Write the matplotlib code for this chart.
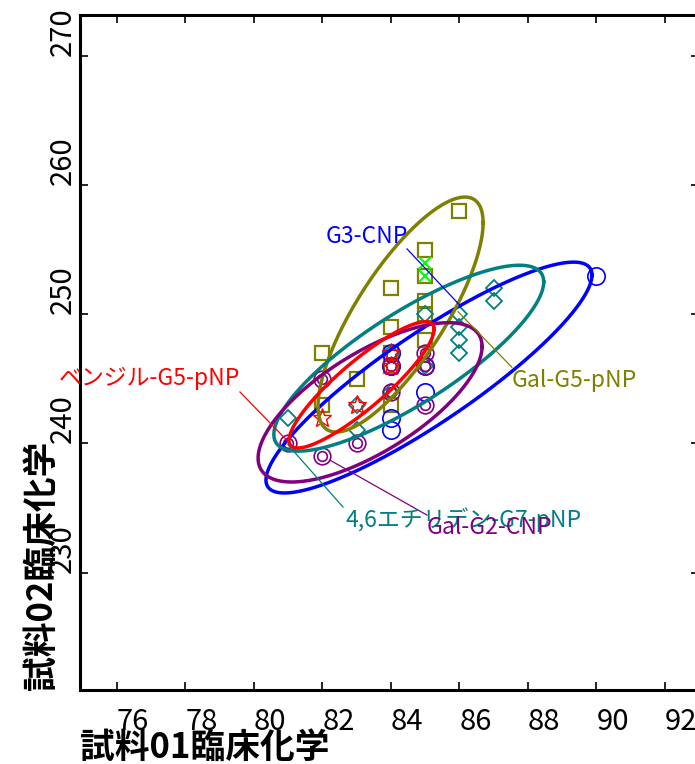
import numpy as np
import matplotlib
matplotlib.use("Agg")
import matplotlib.pyplot as plt

plt.rcParams['font.family'] = ['Liberation Sans Narrow', 'Noto Sans CJK JP', 'DejaVu Sans']

# ---- data -------------------------------------------------------------
g3_cnp_x = [90, 84, 84, 84, 84, 85, 85]
g3_cnp_y = [253, 247, 246, 242, 241, 244, 246]

gal_g5_x = [86, 85, 85, 85, 85, 84, 84, 84, 84, 85, 82, 83, 82, 84]
gal_g5_y = [258, 255, 253, 251, 250, 252, 249, 247, 246, 248, 247, 245, 243, 243]

ethyl_g7_x = [87, 87, 86, 86, 86, 86, 85, 84, 84, 85, 83, 83, 81]
ethyl_g7_y = [252, 251, 250, 249, 248, 247, 250, 247, 244, 246, 243, 241, 242]

gal_g2_x = [81, 82, 82, 83, 84, 84, 85, 85, 85]
gal_g2_y = [240, 245, 239, 240, 244, 246, 247, 246, 243]

benzyl_g5_x = [84, 84, 83, 82]
benzyl_g5_y = [247, 246, 243, 242]

extra_x = [85, 85]
extra_y = [254, 253]

# ellipse: centre x, centre y, half extent x, half extent y, correlation
ell_g3 = [85.11, 245.10, 4.76, 8.94, 0.887]
ell_gal_g5 = [84.28, 249.98, 2.41, 9.10, 0.78]
ell_ethyl = [84.52, 246.60, 3.94, 7.20, 0.82]
ell_gal_g2 = [83.39, 243.18, 3.27, 6.17, 0.70]
ell_benzyl = [83.14, 244.53, 2.12, 4.89, 0.88]

# labels: text, text anchor (x, y), leader start, leader end
lab_g3 = ["G3-CNP", (84.50, 256.0), (84.47, 255.06), (86.01, 250.70)]
lab_gal_g5 = ["Gal-G5-pNP", (87.53, 244.9), (87.53, 245.90), (85.96, 250.20)]
lab_benzyl = ["ベンジル-G5-pNP", (79.59, 245.07), (79.59, 243.98), (81.05, 240.00)]
lab_ethyl = ["4,6エチリデン-G7-pNP", (82.66, 234.07), (82.60, 235.07), (80.99, 239.90)]
lab_gal_g2 = ["Gal-G2-CNP", (85.05, 233.50), (85.05, 234.45), (82.22, 238.70)]

x_ticks = [76, 78, 80, 82, 84, 86, 88, 90, 92]
y_ticks = [230, 240, 250, 260, 270]

BLUE, OLIVE, TEAL, PURPLE, RED, LIME = '#0000FF', '#808000', '#008080', '#800080', '#FF0000', '#00FF00'

# ---- figure -----------------------------------------------------------
fig = plt.figure(figsize=(6.95, 7.64), dpi=100)
ax = fig.add_axes([80 / 695, 1 - 690 / 764, 619.2 / 695, 675 / 764])
ax.set_xlim(74.92, 93.0)
ax.set_ylim(220.9, 273.18)

mk = dict(linestyle='none', markerfacecolor='none', zorder=3)
ax.plot(gal_g5_x, gal_g5_y, marker='s', ms=10, mec=OLIVE, mew=1.6, **mk)
ax.plot(g3_cnp_x, g3_cnp_y, marker='o', ms=12.5, mec=BLUE, mew=1.2, **mk)
ax.plot(ethyl_g7_x, ethyl_g7_y, marker='D', ms=8.5, mec=TEAL, mew=1.3, **mk)
ax.plot(gal_g2_x, gal_g2_y, marker='o', ms=12, mec=PURPLE, mew=1.2, **mk)
ax.plot(gal_g2_x, gal_g2_y, marker='o', ms=7, mec=PURPLE, mew=1.2, **mk)
ax.plot(benzyl_g5_x, benzyl_g5_y, marker='*', ms=14, mec=RED, mew=1.0, **mk)
ax.plot(extra_x, extra_y, marker='x', ms=9, mec=LIME, mew=1.5, **mk)


def draw_ellipse(params, color):
    cx, cy, sx, sy, r = params
    t = np.linspace(0, 2 * np.pi, 400)
    ex = cx + sx * np.cos(t)
    ey = cy + sy * (r * np.cos(t) + np.sqrt(1 - r * r) * np.sin(t))
    ax.plot(ex, ey, color=color, lw=2.5, zorder=4)


draw_ellipse(ell_g3, BLUE)
draw_ellipse(ell_gal_g5, OLIVE)
draw_ellipse(ell_ethyl, TEAL)
draw_ellipse(ell_gal_g2, PURPLE)
draw_ellipse(ell_benzyl, RED)


def draw_label(lab, color, ha):
    text, pos, p0, p1 = lab
    ax.plot([p0[0], p1[0]], [p0[1], p1[1]], color=color, lw=0.9, zorder=5)
    ax.text(pos[0], pos[1], text, color=color, fontsize=16.5, ha=ha, va='center', zorder=6)


draw_label(lab_g3, BLUE, 'right')
draw_label(lab_gal_g5, OLIVE, 'left')
draw_label(lab_benzyl, RED, 'right')
draw_label(lab_ethyl, TEAL, 'left')
draw_label(lab_gal_g2, PURPLE, 'left')

# axes styling
for side in ('left', 'bottom', 'top', 'right'):
    ax.spines[side].set_linewidth(2.2)
ax.set_xticks(x_ticks, [str(v) for v in x_ticks], ha='left')
ax.set_yticks(y_ticks, [str(v) for v in y_ticks], rotation=90, va='bottom')
ax.tick_params(direction='in', length=6, width=1.2, top=True, right=True,
               labelsize=21)
ax.tick_params(axis='x', pad=12)
ax.tick_params(axis='y', pad=1.5)

fig.text(80 / 695, 1 - 747 / 764, "試料01臨床化学", fontsize=25, fontweight='bold',
         ha='left', va='center', family=['Noto Sans CJK JP', 'DejaVu Sans'])
fig.text(41 / 695, 1 - 690 / 764, "試料02臨床化学", fontsize=25, fontweight='bold',
         rotation=90, ha='center', va='bottom', family=['Noto Sans CJK JP', 'DejaVu Sans'])

fig.savefig("out.png", dpi=100)
